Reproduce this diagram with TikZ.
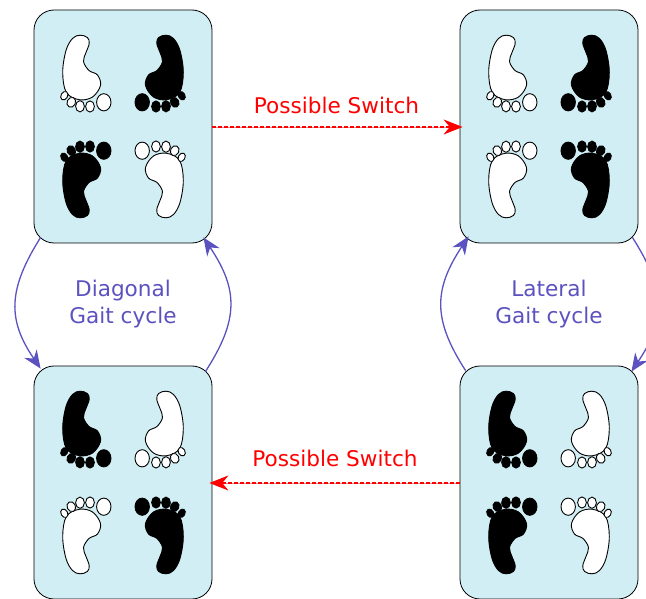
\documentclass[tikz,border=0pt]{standalone}
\usepackage{fontspec}
\setmainfont{DejaVu Sans}
\usetikzlibrary{arrows.meta}
\definecolor{boxfill}{HTML}{D0EEF3}
\definecolor{cyc}{HTML}{5B52C0}
\newcommand{\onefoot}[3]{%
 \begin{scope}[xscale=#1,yscale=#2,draw=black,fill=#3,line width=0.9pt]
  \filldraw plot[smooth cycle,tension=0.6] coordinates {(-43,-91.3)(-35.6,-89)(-33.8,-83)(-37,-74)(-39.5,-65)(-34,-56)(-25.5,-51.5)(-22.5,-41)(-30.5,-29.5)(-43.7,-26.8)(-56.6,-34)(-60.3,-54)(-57,-76)(-50.5,-88)};
  \filldraw[rotate around={-30:(-58.7,-30.8)}] (-58.7,-30.8) ellipse [x radius=3.3,y radius=4.5];
  \filldraw[rotate around={-25:(-51.7,-24.2)}] (-51.7,-24.2) ellipse [x radius=4.2,y radius=5.1];
  \filldraw (-43,-20.2) ellipse [x radius=4.4,y radius=5.6];
  \filldraw (-33,-20) ellipse [x radius=4.4,y radius=5.6];
  \filldraw (-19.2,-24.2) ellipse [x radius=7.2,y radius=8.6];
 \end{scope}}
% #1 #2 centre, #3..#6 fills TL TR BL BR
\newcommand{\fourfeet}[6]{%
 \begin{scope}[shift={(#1,#2)}]
  \onefoot{1}{1}{#3}\onefoot{-1}{1}{#4}\onefoot{1}{-1}{#5}\onefoot{-1}{-1}{#6}
 \end{scope}}
\tikzset{
 gaitbox/.style={draw=black,fill=boxfill,rounded corners=20pt,minimum width=178pt,minimum height=233pt,line width=0.8pt,inner sep=0pt},
 cycarrow/.style={draw=cyc,line width=1.3pt,-{Stealth[length=18pt,width=15pt]}},
 switcharrow/.style={color=red,line width=1.3pt,dash pattern=on 4pt off 2pt,preaction={draw=red!45,dash pattern=on 50pt off 0pt},-{Stealth[length=19pt,width=15pt,fill=red]}},
 cyclabel/.style={text=cyc,font=\fontsize{21.6}{27}\selectfont,align=center},
 switchlabel/.style={text=red,font=\fontsize{21.6}{24}\selectfont}
}
\begin{document}
\begin{tikzpicture}[x=1pt,y=-1pt]
\useasboundingbox (0,0) rectangle (646,599);
\node[gaitbox] (a) at (123,126.5) {};
\node[gaitbox] (b) at (549,126.5) {};
\node[gaitbox] (c) at (123,482.5) {};
\node[gaitbox] (d) at (549,482.5) {};
\fourfeet{123}{126.5}{white}{black}{black}{white}
\fourfeet{549}{126.5}{white}{black}{white}{black}
\fourfeet{123}{482.5}{black}{white}{white}{black}
\fourfeet{549}{482.5}{black}{white}{black}{white}
\draw[switcharrow] (a.east |- 0,127) -- ([xshift=3pt]b.west |- 0,127);
\draw[switcharrow] (d.west |- 0,483) -- ([xshift=-3pt]c.east |- 0,483);
\node[switchlabel] (s1) at (336.5,105.5) {Possible Switch};
\node[switchlabel] (s2) at (335,458) {Possible Switch};
\node[cyclabel] (l1) at (123,304) {Diagonal\\Gait cycle};
\node[cyclabel] (l2) at (549,304) {Lateral\\Gait cycle};
\draw[cycarrow] ([shift={(7,-6)}]a.south west) .. controls (7.5,290) and (7.5,320) .. ([shift={(7,3)}]c.north west);
\draw[cycarrow] ([shift={(-7,6)}]c.north east) .. controls (238.7,320) and (238.7,290) .. ([shift={(-9,-6)}]a.south east);
\draw[cycarrow] ([shift={(6,5)}]d.north west) .. controls (433,320) and (433,290) .. ([shift={(9,-7)}]b.south west);
\draw[cycarrow] ([shift={(-6,-6)}]b.south east) .. controls (666,290) and (666,320) .. ([shift={(-7,6)}]d.north east);
\end{tikzpicture}
\end{document}
